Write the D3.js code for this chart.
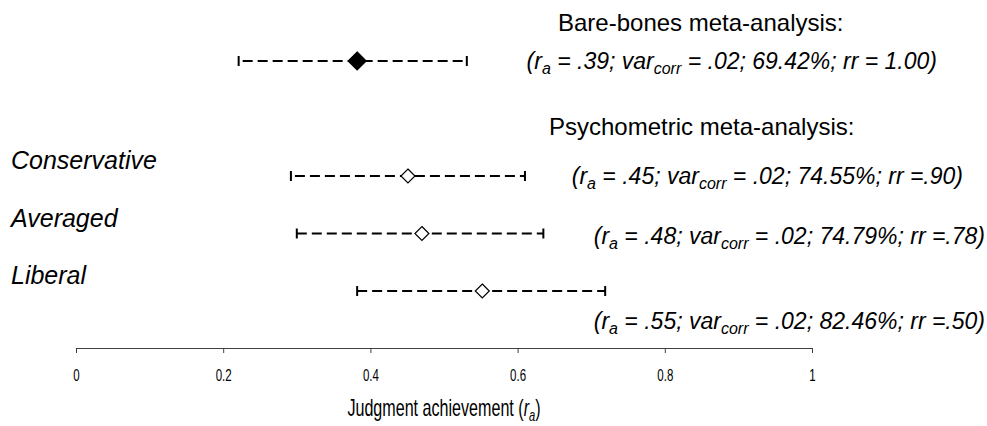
<!DOCTYPE html>
<html>
<head>
<meta charset="utf-8">
<script src="https://cdn.jsdelivr.net/npm/d3@7"></script>
<style>
  body { margin: 0; background: #fff; }
  text { font-family: "Liberation Sans", Arial, sans-serif; fill: #000; }
</style>
</head>
<body>
<script>
// rows, top to bottom
var rowNames = ["Bare-bones", "Conservative", "Averaged", "Liberal"];
var rowSlot = [0, 2, 3, 4];
var estimates = [0.382, 0.451, 0.470, 0.552];
var lower = [0.221, 0.292, 0.300, 0.382];
var upper = [0.531, 0.610, 0.635, 0.719];

// annotation numbers
var raText = [".39", ".45", ".48", ".55"];
var varText = [".02", ".02", ".02", ".02"];
var pctText = ["69.42%", "74.55%", "74.79%", "82.46%"];
var rrText = ["= 1.00", "=.90", "=.78", "=.50"];

var tickValues = [0, 0.2, 0.4, 0.6, 0.8, 1];

var width = 987;
var height = 426;

var svg = d3.select("body").append("svg").attr("width", width).attr("height", height);

var x = d3.scaleLinear().domain([0, 1]).range([76, 812]);
var y = d3.scaleLinear().domain([0, 4]).range([61, 291]);

// axis
var axisY = 348;
var axis = svg.append("g")
  .attr("transform", "translate(0," + axisY + ")")
  .call(d3.axisBottom(x).tickValues(tickValues).tickSize(5).tickSizeOuter(5)
    .tickFormat(function(d){ return String(d); }));
axis.select(".domain").attr("stroke", "#404040");
axis.selectAll(".tick line").attr("stroke", "#404040");
axis.selectAll(".tick text")
  .attr("y", 33)
  .attr("dy", 0)
  .attr("font-size", 16)
  .attr("font-family", "Liberation Sans, Arial, sans-serif")
  .attr("fill", "#000")
  .attr("transform", "scale(0.72,1)");

var title = svg.append("g").attr("transform", "translate(444,416)")
  .append("text")
  .attr("text-anchor", "middle")
  .attr("font-size", 23)
  .attr("transform", "scale(0.7,1)");
title.append("tspan").text("Judgment achievement (");
title.append("tspan").attr("font-style", "italic").text("r");
title.append("tspan").attr("font-style", "italic").attr("font-size", 16).attr("dy", 5).text("a");
title.append("tspan").attr("dy", -5).text(")");

// intervals
var rows = svg.selectAll("g.row")
  .data(rowNames)
  .enter().append("g")
    .attr("class", "row")
    .attr("transform", function(d, i){ return "translate(0," + y(rowSlot[i]) + ")"; });

var dashStart = [4, 4, 0, 0];
rows.append("line")
  .attr("x1", function(d, i){ return x(lower[i]) + dashStart[i]; })
  .attr("x2", function(d, i){ return x(upper[i]); })
  .attr("stroke", "#000")
  .attr("stroke-width", 2)
  .attr("stroke-dasharray", "10,5");

rows.selectAll("line.cap")
  .data(function(d, i){ return [lower[i], upper[i]]; })
  .enter().append("line")
    .attr("class", "cap")
    .attr("x1", function(d){ return x(d); })
    .attr("x2", function(d){ return x(d); })
    .attr("y1", -5)
    .attr("y2", 5)
    .attr("stroke", "#000")
    .attr("stroke-width", 2);

rows.append("path")
  .attr("transform", function(d, i){ return "translate(" + x(estimates[i]) + ",0)"; })
  .attr("d", function(d, i){ var s = i == 0 ? 9 : 7; return "M0," + (-s) + "L" + s + ",0L0," + s + "L" + (-s) + ",0Z"; })
  .attr("fill", function(d, i){ return i == 0 ? "#000" : "#fff"; })
  .attr("stroke", "#000")
  .attr("stroke-width", 1.2);

// row labels
rows.filter(function(d, i){ return i > 0; })
  .append("text")
  .attr("x", 11)
  .attr("y", -7)
  .attr("font-size", 25)
  .attr("font-style", "italic")
  .text(function(d){ return d; });

// headers
svg.append("text").attr("x", 558).attr("y", 31).attr("font-size", 24).text("Bare-bones meta-analysis:");
svg.append("text").attr("x", 549).attr("y", 135).attr("font-size", 24).text("Psychometric meta-analysis:");

// stats lines (right edge and baseline offset from the row)
var statsRight = [937, 963, 985, 985];
var statsDy = [8, 8, 10, 38];

rows.each(function(d, i){
  var t = d3.select(this).append("text")
    .attr("x", statsRight[i])
    .attr("y", statsDy[i])
    .attr("text-anchor", "end")
    .attr("font-size", 23)
    .attr("font-style", "italic");
  t.append("tspan").text("(r");
  t.append("tspan").attr("font-size", 16).attr("dy", 5).text("a");
  t.append("tspan").attr("dy", -5).text(" = " + raText[i] + "; var");
  t.append("tspan").attr("font-size", 16).attr("dy", 5).text("corr");
  t.append("tspan").attr("dy", -5).text(" = " + varText[i] + "; " + pctText[i] + "; rr " + rrText[i] + ")");
});
</script>
</body>
</html>
